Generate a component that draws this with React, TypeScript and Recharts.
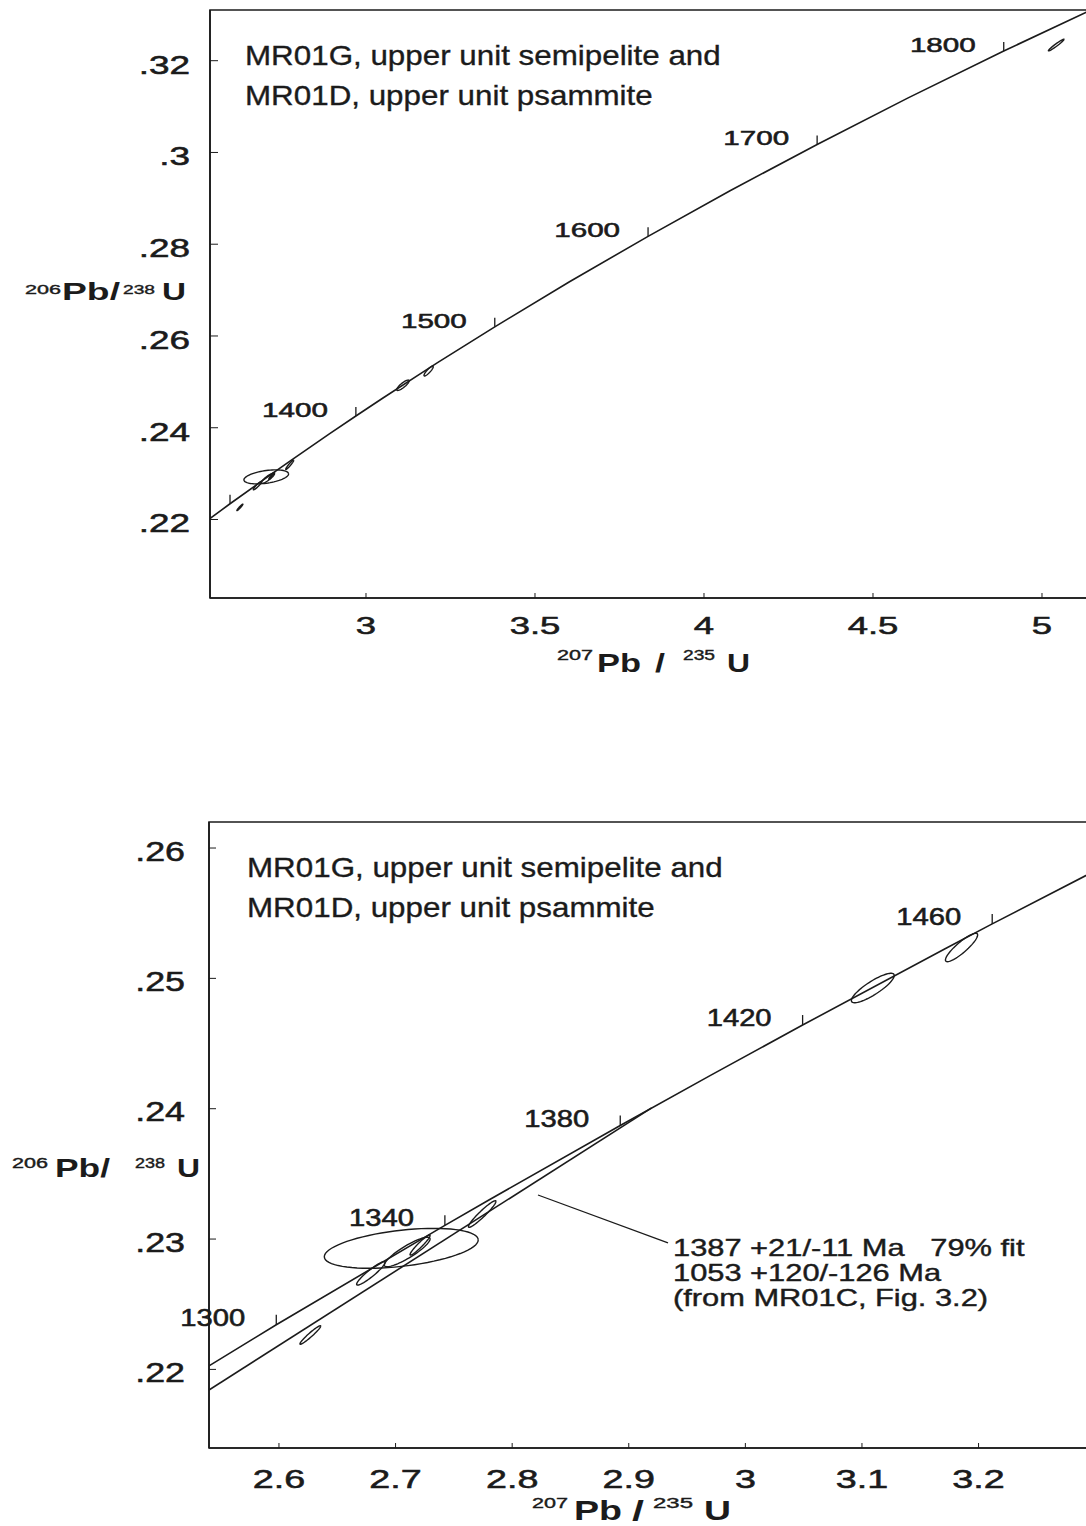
import React from 'react';
import {
  ScatterChart,
  Scatter,
  XAxis,
  YAxis,
  ReferenceArea,
  ReferenceDot,
  ReferenceLine,
} from 'recharts';

const FONT = '"Liberation Sans", Arial, Helvetica, sans-serif';
const INK = '#1b1b1b';

// concordia curve, ages in Ma with 207Pb/235U and 206Pb/238U
const concordiaAges = [1250, 1300, 1340, 1350, 1380, 1400, 1420, 1450, 1460, 1500, 1550, 1600, 1650, 1700, 1750, 1800, 1850];
const concordiaX = [2.4249, 2.5977, 2.7423, 2.7793, 2.8927, 2.9701, 3.0491, 3.1705, 3.2117, 3.381, 3.6021, 3.8345, 4.0784, 4.3347, 4.604, 4.8868, 5.184];
const concordiaY = [0.21398, 0.22343, 0.23105, 0.23296, 0.23871, 0.24256, 0.24642, 0.25224, 0.25418, 0.26199, 0.27181, 0.28172, 0.2917, 0.30175, 0.31189, 0.32211, 0.3324];

// age marks along the curve
const topMarks = [1300, 1400, 1500, 1600, 1700, 1800];
const topLabels = [1400, 1500, 1600, 1700, 1800];
const zoomMarks = [1300, 1340, 1380, 1420, 1460];
const zoomLabels = [1300, 1340, 1380, 1420, 1460];

// zircon analyses: centre, half-widths and error correlation
const spotX = [2.6269, 2.6788, 2.7049, 2.71, 2.721, 2.7743, 3.1093, 3.1854, 5.0421];
const spotY = [0.22264, 0.22737, 0.22929, 0.22901, 0.22954, 0.23192, 0.24926, 0.25237, 0.32341];
const spotSx = [0.0089, 0.0122, 0.066, 0.0196, 0.0086, 0.0118, 0.0184, 0.0138, 0.0231];
const spotSy = [0.00071, 0.0009, 0.00153, 0.00113, 0.00077, 0.00102, 0.00113, 0.00109, 0.00127];
const spotRho = [0.96, 0.93, 0.42, 0.88, 0.95, 0.95, 0.85, 0.88, 0.97];

// discordia chord: lower (1053 Ma) and upper (1387 Ma) intercepts
const chordX = [1.8209, 2.9196];
const chordY = [0.17744, 0.24006];

// leader from the chord to the age note
const leaderX = [2.82216, 2.93365];
const leaderY = [0.23338, 0.2297];

const topXTicks = [3, 3.5, 4, 4.5, 5];
const topYTicks = [0.22, 0.24, 0.26, 0.28, 0.3, 0.32];
const zoomXTicks = [2.6, 2.7, 2.8, 2.9, 3, 3.1, 3.2];
const zoomYTicks = [0.22, 0.23, 0.24, 0.25, 0.26];

const titleLines = ['MR01G, upper unit semipelite and', 'MR01D, upper unit psammite'];
const ageNote = ['1387 +21/-11 Ma   79% fit', '1053 +120/-126 Ma', '(from MR01C, Fig. 3.2)'];

const TOP_X: [number, number] = [2.5385, 5.1716];
const TOP_Y: [number, number] = [0.20289, 0.33105];
const ZOOM_X: [number, number] = [2.54, 3.30415];
const ZOOM_Y: [number, number] = [0.21397, 0.261997];

const curve = concordiaAges.map((age, i) => ({ age, x: concordiaX[i], y: concordiaY[i] }));
const chord = chordX.map((x, i) => ({ x, y: chordY[i] }));

const spotOutline = (i: number) => {
  const pts: { x: number; y: number }[] = [];
  const c = Math.sqrt(1 - spotRho[i] * spotRho[i]);
  for (let k = 0; k <= 72; k++) {
    const t = (k / 72) * Math.PI * 2;
    pts.push({
      x: spotX[i] + spotSx[i] * Math.cos(t),
      y: spotY[i] + spotSy[i] * (spotRho[i] * Math.cos(t) + c * Math.sin(t)),
    });
  }
  return pts;
};

const fmt = (v: number) => String(v).replace(/^0\./, '.');
const NoDot = () => <g />;

// numbers in the plots are set slightly heavier than the title
const heavy = { stroke: INK, strokeWidth: 0.55 };

const YTick = (p: any) => (
  <text
    transform={`translate(${p.x - p.gap},${p.y + p.drop}) scale(${p.k},1)`}
    textAnchor="end"
    fontSize={p.size}
    fontFamily={FONT}
    fill={INK}
    {...heavy}
  >
    {fmt(p.payload.value)}
  </text>
);

const XTick = (p: any) => (
  <text
    transform={`translate(${p.x},${p.y + p.drop}) scale(${p.k},1)`}
    textAnchor="middle"
    fontSize={p.size}
    fontFamily={FONT}
    fill={INK}
    {...heavy}
  >
    {fmt(p.payload.value)}
  </text>
);

const AgeMark = (p: any) => (
  <g>
    <line x1={p.cx} y1={p.cy} x2={p.cx} y2={p.cy - p.len} stroke={INK} strokeWidth={1.3} />
    {p.text ? (
      <text
        transform={`translate(${p.cx - p.gap},${p.cy + 1}) scale(${p.k},1)`}
        textAnchor="end"
        fontSize={p.size}
        fontFamily={FONT}
        fill={INK}
        {...heavy}
      >
        {p.text}
      </text>
    ) : null}
  </g>
);

const NoteText = (p: any) => (
  <g>
    {ageNote.map((s, i) => (
      <text
        key={s}
        transform={`translate(${p.cx + 5},${p.cy + 13 + i * 25}) scale(1.34,1)`}
        fontSize={23}
        fontFamily={FONT}
        fill={INK}
        stroke={INK}
        strokeWidth={0.4}
        style={{ whiteSpace: 'pre' }}
      >
        {s}
      </text>
    ))}
  </g>
);

// stretched piece of an axis title
const Piece = ({ x, y, w, size, bold, children }: any) => (
  <text
    x={x}
    y={y}
    fontSize={size}
    fontWeight={bold ? 700 : 400}
    textLength={w}
    lengthAdjust="spacingAndGlyphs"
    fontFamily={FONT}
    fill={INK}
    stroke={bold ? 'none' : INK}
    strokeWidth={0.4}
  >
    {children}
  </text>
);

const Title = ({ x, y }: { x: number; y: number }) => (
  <g>
    {titleLines.map((s, i) => (
      <text
        key={s}
        transform={`translate(${x},${y + i * 40}) scale(1.12,1)`}
        fontSize={28}
        fontFamily={FONT}
        fill={INK}
        stroke={INK}
        strokeWidth={0.35}
      >
        {s}
      </text>
    ))}
  </g>
);

const lineStyle = { stroke: INK, strokeWidth: 1.6 };
const spotStyle = { stroke: INK, strokeWidth: 1.4 };

const ageOf = (age: number) => curve.find((c) => c.age === age)!;

export default function App() {
  return (
    <div
      style={{
        position: 'fixed',
        left: 0,
        top: 0,
        width: 1086,
        height: 1526,
        overflow: 'hidden',
        background: '#fff',
      }}
    >
      {/* full concordia view */}
      <div style={{ position: 'absolute', left: 0, top: 0 }}>
        <ScatterChart width={1110} height={700} margin={{ top: 10, right: 10, bottom: 0, left: 0 }}>
          <XAxis
            type="number"
            dataKey="x"
            domain={TOP_X}
            ticks={topXTicks}
            interval={0}
            allowDataOverflow
            height={102}
            tickSize={-5}
            tickMargin={5}
            axisLine={{ stroke: INK, strokeWidth: 1.6 }}
            tickLine={{ stroke: INK }}
            tick={(p: any) => <XTick {...p} size={24} k={1.52} drop={36} />}
          />
          <YAxis
            type="number"
            dataKey="y"
            domain={TOP_Y}
            ticks={topYTicks}
            interval={0}
            allowDataOverflow
            width={210}
            tickSize={-8}
            tickMargin={8}
            axisLine={{ stroke: INK, strokeWidth: 1.6 }}
            tickLine={{ stroke: INK }}
            tick={(p: any) => <YTick {...p} size={26} k={1.42} gap={20} drop={13} />}
          />
          <ReferenceArea
            x1={TOP_X[0]}
            x2={TOP_X[1]}
            y1={TOP_Y[0]}
            y2={TOP_Y[1]}
            ifOverflow="visible"
            fill="none"
            stroke={INK}
            strokeWidth={1.6}
          />
          <Scatter data={curve} line={lineStyle} shape={NoDot} isAnimationActive={false} />
          {spotX.map((_, i) => (
            <Scatter key={i} data={spotOutline(i)} line={spotStyle} shape={NoDot} isAnimationActive={false} />
          ))}
          {topMarks.map((age) => {
            const c = ageOf(age);
            return (
              <ReferenceDot
                key={age}
                x={c.x}
                y={c.y}
                shape={(p: any) => (
                  <AgeMark {...p} len={9} gap={28} size={20} k={1.48} text={topLabels.includes(age) ? String(age) : ''} />
                )}
              />
            );
          })}
          <Title x={245} y={65} />
          <Piece x={25} y={294} w={36} size={13}>206</Piece>
          <Piece x={62} y={300} w={58} size={24} bold>Pb/</Piece>
          <Piece x={123} y={294} w={32} size={13}>238</Piece>
          <Piece x={162} y={300} w={24} size={24} bold>U</Piece>
          <Piece x={557} y={660} w={36} size={14}>207</Piece>
          <Piece x={597} y={672} w={44} size={26} bold>Pb</Piece>
          <Piece x={655} y={672} w={10} size={26} bold>/</Piece>
          <Piece x={683} y={660} w={32} size={14}>235</Piece>
          <Piece x={727} y={672} w={23} size={26} bold>U</Piece>
        </ScatterChart>
      </div>

      {/* enlarged view around the intercept */}
      <div style={{ position: 'absolute', left: 0, top: 760 }}>
        <ScatterChart width={1110} height={766} margin={{ top: 62, right: 10, bottom: 0, left: 0 }}>
          <XAxis
            type="number"
            dataKey="x"
            domain={ZOOM_X}
            ticks={zoomXTicks}
            interval={0}
            allowDataOverflow
            height={78}
            tickSize={-5}
            tickMargin={5}
            axisLine={{ stroke: INK, strokeWidth: 1.6 }}
            tickLine={{ stroke: INK }}
            tick={(p: any) => <XTick {...p} size={26} k={1.45} drop={40} />}
          />
          <YAxis
            type="number"
            dataKey="y"
            domain={ZOOM_Y}
            ticks={zoomYTicks}
            interval={0}
            allowDataOverflow
            width={209}
            tickSize={-7}
            tickMargin={7}
            axisLine={{ stroke: INK, strokeWidth: 1.6 }}
            tickLine={{ stroke: INK }}
            tick={(p: any) => <YTick {...p} size={28} k={1.28} gap={24} drop={12.5} />}
          />
          <ReferenceArea
            x1={ZOOM_X[0]}
            x2={ZOOM_X[1]}
            y1={ZOOM_Y[0]}
            y2={ZOOM_Y[1]}
            ifOverflow="visible"
            fill="none"
            stroke={INK}
            strokeWidth={1.6}
          />
          <Scatter data={curve} line={lineStyle} shape={NoDot} isAnimationActive={false} />
          <Scatter data={chord} line={lineStyle} shape={NoDot} isAnimationActive={false} />
          {spotX.map((_, i) => (
            <Scatter key={i} data={spotOutline(i)} line={spotStyle} shape={NoDot} isAnimationActive={false} />
          ))}
          {zoomMarks.map((age) => {
            const c = ageOf(age);
            return (
              <ReferenceDot
                key={age}
                x={c.x}
                y={c.y}
                shape={(p: any) => (
                  <AgeMark {...p} len={10} gap={31} size={23} k={1.27} text={zoomLabels.includes(age) ? String(age) : ''} />
                )}
              />
            );
          })}
          <ReferenceLine
            segment={[
              { x: leaderX[0], y: leaderY[0] },
              { x: leaderX[1], y: leaderY[1] },
            ]}
            stroke={INK}
            strokeWidth={1.3}
          />
          <ReferenceDot x={leaderX[1]} y={leaderY[1]} shape={(p: any) => <NoteText {...p} />} />
          <Title x={247} y={117} />
          <Piece x={12} y={408} w={36} size={14}>206</Piece>
          <Piece x={55} y={417} w={55} size={26} bold>Pb/</Piece>
          <Piece x={135} y={408} w={30} size={14}>238</Piece>
          <Piece x={177} y={417} w={23} size={26} bold>U</Piece>
          <Piece x={532} y={748} w={36} size={15}>207</Piece>
          <Piece x={574} y={760} w={48} size={28} bold>Pb</Piece>
          <Piece x={632} y={760} w={12} size={28} bold>/</Piece>
          <Piece x={653} y={748} w={40} size={15}>235</Piece>
          <Piece x={704} y={760} w={27} size={28} bold>U</Piece>
        </ScatterChart>
      </div>
    </div>
  );
}
